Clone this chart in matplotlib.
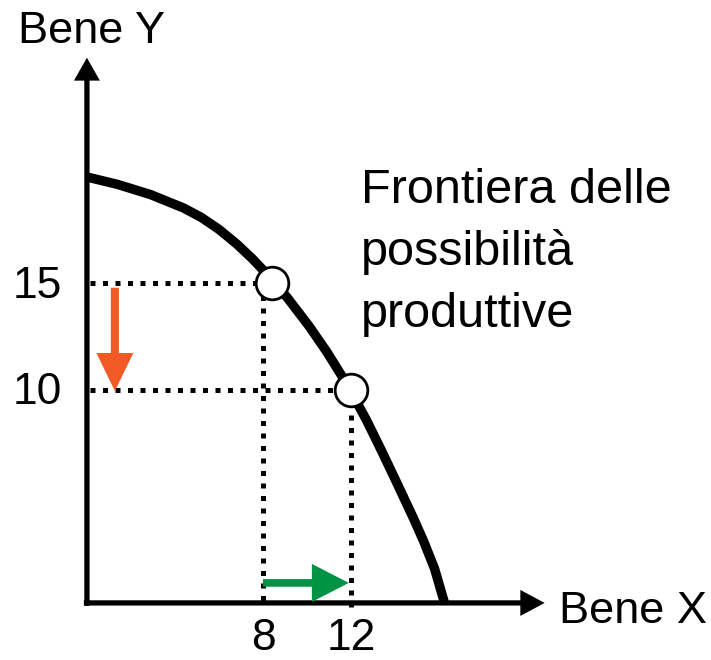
import matplotlib
matplotlib.use("Agg")
import matplotlib.pyplot as plt
from matplotlib.patches import FancyArrowPatch

plt.rcParams['font.family'] = ['Liberation Sans', 'DejaVu Sans']

# frontier points
frontier_x = [0.0, 1.4, 2.9, 4.4, 5.2, 6.0, 6.8, 7.5, 8.2, 9.1,
              10.1, 10.9, 11.6, 12.0, 12.7, 13.4, 14.1, 14.85, 15.3, 15.8, 16.25]
frontier_y = [20.0, 19.65, 19.17, 18.54, 18.10, 17.54, 16.86, 16.18, 15.42, 14.34,
              12.99, 11.79, 10.63, 9.92, 8.59, 7.12, 5.6, 3.95, 2.9, 1.6, 0.0]

# the two production choices
point_x = [8.4, 12.0]
point_y = [15, 10]
x_ticks = [8, 12]
y_ticks = [15, 10]
x_labels = ['8', '12']
y_labels = ['15', '10']

label_lines = ['Frontiera delle', 'possibilità', 'produttive']

fig = plt.figure(figsize=(7.11, 6.6), dpi=100)
ax = fig.add_axes([0, 0, 1, 1])
ax.set_xlim(-3.95, 28.36)
ax.set_ylim(-2.68, 28.31)
ax.axis('off')


def arrow(p0, p1, color, tail, head_w, head_l, z=2):
    style = f'simple,head_length={head_l},head_width={head_w},tail_width={tail}'
    ax.add_patch(FancyArrowPatch(p0, p1, arrowstyle=style, mutation_scale=1,
                                 color=color, lw=0, shrinkA=0, shrinkB=0, zorder=z))


# axes with arrow heads
arrow((-0.14, 0), (20.8, 0), 'black', 3.8, 18.7, 17.5)
arrow((0, -0.14), (0, 25.6), 'black', 3.8, 18.7, 16.5)

# dotted guides
dots = dict(color='black', lw=3.6, ls=(0, (1, 1.5)), dash_capstyle='butt', zorder=2)
for px, tx, ty in zip(point_x, x_ticks, y_ticks):
    ax.plot([0.12, px], [ty, ty], **dots)
    ax.plot([tx, tx], [ty, -0.2], **dots)

# frontier
ax.plot(frontier_x, frontier_y, color='black', lw=6.8,
        solid_capstyle='butt', solid_joinstyle='round', zorder=3)

# points
ax.plot(point_x, point_y, 'o', ms=23.5, mfc='white', mec='black', mew=2, zorder=5)

# shift arrows
arrow((1.27, 14.8), (1.27, 9.95), '#F15A24', 5.8, 26.6, 27.4, z=4)
arrow((8.0, 0.94), (11.9, 0.94), '#009245', 5.5, 27.4, 26.6, z=4)

# tick labels
for tx, lab in zip(x_ticks, x_labels):
    ax.text(tx, -2.22, lab, fontsize=32, ha='center', va='baseline')
for ty, lab in zip(y_ticks, y_labels):
    ax.text(-1.14, ty - 0.68, lab, fontsize=32, ha='right', va='baseline')

# axis names
ax.text(-3.14, 26.29, 'Bene Y', fontsize=32.5, ha='left', va='baseline')
ax.text(21.45, -0.94, 'Bene X', fontsize=32.5, ha='left', va='baseline')

for i, line in enumerate(label_lines):
    ax.text(12.45, 18.78 - i * 2.92, line, fontsize=35, ha='left', va='baseline')

fig.savefig('out.png', dpi=100)
